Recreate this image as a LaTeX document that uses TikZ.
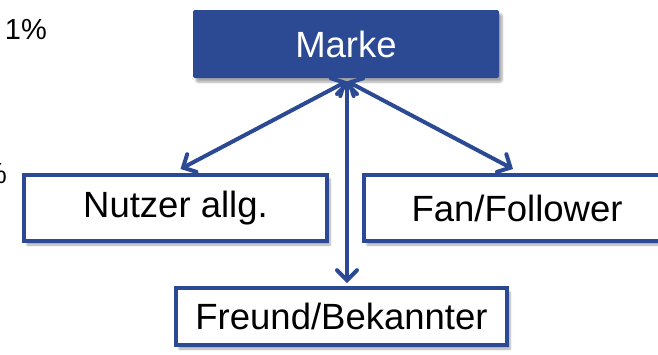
\documentclass[tikz,border=0pt]{standalone}
\usepackage{fontspec}
\setmainfont{Liberation Sans}
\usetikzlibrary{arrows.meta,shadows.blur}
\definecolor{brandblue}{HTML}{2B4A93}
\tikzset{
  boxshadow/.style={blur shadow={shadow xshift=3pt,shadow yshift=-4pt,shadow blur steps=6,shadow opacity=35}},
  brandbox/.style={draw=none,fill=brandblue,rounded corners=2pt,boxshadow,
    text=white,font=\fontsize{36.5}{40}\selectfont,inner sep=0pt},
  rolebox/.style={draw=brandblue,line width=4pt,fill=white,boxshadow,
    font=\fontsize{36.5}{40}\selectfont,inner sep=0pt},
  link/.style={draw=brandblue,line width=4pt,line cap=round,
    {Straight Barb[length=10pt,width=20pt,line cap=round]}-{Straight Barb[length=10pt,width=20pt,line cap=round]}},
  pct/.style={font=\fontsize{29}{32}\selectfont,inner sep=0pt}
}
\begin{document}
\begin{tikzpicture}[x=1pt,y=1pt]
\useasboundingbox (0,0) rectangle (658,-354);
% percentages on the left margin
\node[pct,anchor=base east] (p1) at (47,-39) {1\%};
\node[pct,anchor=base east] (p2) at (7,-183) {5\%};
% boxes
\node[brandbox,minimum width=306pt,minimum height=68pt] (marke) at (346,-44) {Marke};
\node[rolebox,minimum width=303pt,minimum height=66pt] (nutzer) at (175.5,-208) {Nutzer allg.};
\node[rolebox,minimum width=306pt,minimum height=66pt] (fan) at (517,-208) {Fan/Follower};
\node[rolebox,minimum width=331pt,minimum height=57pt] (freund) at (341.5,-316.5) {Freund/Bekannter};
% connector end points
\coordinate (hub) at ([xshift=1pt,yshift=-3pt]marke.south);
\coordinate (nutzerend) at ([xshift=5pt,yshift=4pt]nutzer.north);
\coordinate (fanend) at ([xshift=-4pt,yshift=4pt]fan.north);
\coordinate (freundend) at ([yshift=3pt]hub |- freund.north);
% connectors
\draw[link] (hub) -- (nutzerend);
\draw[link] (hub) -- (fanend);
\draw[link] (hub) -- (freundend);
\end{tikzpicture}
\end{document}
